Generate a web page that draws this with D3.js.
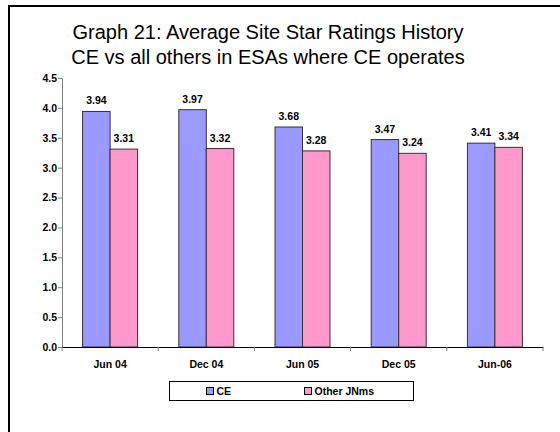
<!DOCTYPE html>
<html>
<head>
<meta charset="utf-8">
<script src="https://cdn.jsdelivr.net/npm/d3@7"></script>
<style>
  body { margin: 0; background: #fff; }
  svg { display: block; font-family: "Liberation Sans", Arial, sans-serif; }
</style>
</head>
<body>
<div id="chart"></div>
<script>
// data
const periods = ["Jun 04", "Dec 04", "Jun 05", "Dec 05", "Jun-06"];
const seriesNames = ["CE", "Other JNms"];
const ceValues = [3.94, 3.97, 3.68, 3.47, 3.41];
const otherValues = [3.31, 3.32, 3.28, 3.24, 3.34];
const yTicks = [0, 0.5, 1, 1.5, 2, 2.5, 3, 3.5, 4, 4.5];
const titleLines = ["Graph 21: Average Site Star Ratings History", "CE vs all others in ESAs where CE operates"];

const colors = ["#9999FF", "#FF99CC"];
const width = 560, height = 432;

const svg = d3.select("#chart").append("svg")
    .attr("width", width)
    .attr("height", height);

// outer frame (only top + left visible in the picture)
svg.append("path")
    .attr("d", `M9,${height} V6 H${width}`)
    .attr("fill", "none")
    .attr("stroke", "#000")
    .attr("stroke-width", 2);

// title
svg.append("g").selectAll("text")
    .data(titleLines)
    .enter().append("text")
    .attr("x", 268)
    .attr("y", (d, i) => 39 + i * 25)
    .attr("text-anchor", "middle")
    .attr("font-size", 20)
    .attr("fill", "#000")
    .text(d => d);

const plot = { left: 62, right: 543, top: 78, bottom: 347 };

const x = d3.scaleBand()
    .domain(periods)
    .range([plot.left, plot.right]);

// gap width 150% -> bars are 1/3.5 of a category each
const barW = x.bandwidth() / 3.5;

const y = d3.scaleLinear()
    .domain([0, 4.5])
    .range([plot.bottom, plot.top]);

// y axis
const yAxis = svg.append("g")
    .attr("transform", `translate(${plot.left},0)`)
    .call(d3.axisLeft(y).tickValues(yTicks).tickSize(4).tickFormat(d3.format(".1f")));
yAxis.attr("font-size", null).attr("font-family", null);
yAxis.select(".domain").attr("stroke", "#808080");
yAxis.selectAll(".tick line").attr("stroke", "#808080");
yAxis.selectAll("text")
    .style("font-size", "10.5px")
    .attr("font-weight", "bold")
    .attr("fill", "#000")
    .attr("x", -5);

// bars
const data = periods.map((p, i) => ({ period: p, values: [ceValues[i], otherValues[i]] }));

const groups = svg.append("g").selectAll("g")
    .data(data)
    .enter().append("g")
    .attr("transform", d => `translate(${x(d.period) + barW * 0.75},0)`);

groups.selectAll("rect")
    .data(d => d.values)
    .enter().append("rect")
    .attr("x", (d, i) => i * barW)
    .attr("y", d => y(d))
    .attr("width", barW)
    .attr("height", d => plot.bottom - y(d))
    .attr("fill", (d, i) => colors[i])
    .attr("stroke", "#333")
    .attr("stroke-width", 1);

groups.selectAll("text")
    .data(d => d.values)
    .enter().append("text")
    .attr("x", (d, i) => i * barW + barW / 2)
    .attr("y", d => y(d) - 7)
    .attr("text-anchor", "middle")
    .attr("font-size", 10.5)
    .attr("font-weight", "bold")
    .text(d => d.toFixed(2));

// x axis
const xAxis = svg.append("g")
    .attr("transform", `translate(0,${plot.bottom})`)
    .call(d3.axisBottom(x).tickSize(0).tickSizeOuter(0));
xAxis.attr("font-size", null).attr("font-family", null);
xAxis.select(".domain").attr("stroke", "#000");
xAxis.selectAll("text")
    .style("font-size", "10.5px")
    .attr("font-weight", "bold")
    .attr("fill", "#000")
    .attr("y", 14);
// category separator ticks
svg.append("g").selectAll("line")
    .data(d3.range(periods.length + 1))
    .enter().append("line")
    .attr("x1", i => plot.left + i * x.bandwidth())
    .attr("x2", i => plot.left + i * x.bandwidth())
    .attr("y1", plot.bottom)
    .attr("y2", plot.bottom + 4)
    .attr("stroke", "#808080");

// legend
const legend = svg.append("g").attr("transform", "translate(169.5,381.5)");
legend.append("rect")
    .attr("width", 244)
    .attr("height", 19)
    .attr("fill", "#fff")
    .attr("stroke", "#000");
const items = legend.selectAll("g")
    .data(seriesNames)
    .enter().append("g")
    .attr("transform", (d, i) => `translate(${37 + i * 98},6)`);
items.append("rect")
    .attr("width", 7)
    .attr("height", 7)
    .attr("fill", (d, i) => colors[i])
    .attr("stroke", "#000");
items.append("text")
    .attr("x", 10)
    .attr("y", 7.5)
    .attr("font-size", 10.5)
    .attr("font-weight", "bold")
    .text(d => d);
</script>
</body>
</html>
